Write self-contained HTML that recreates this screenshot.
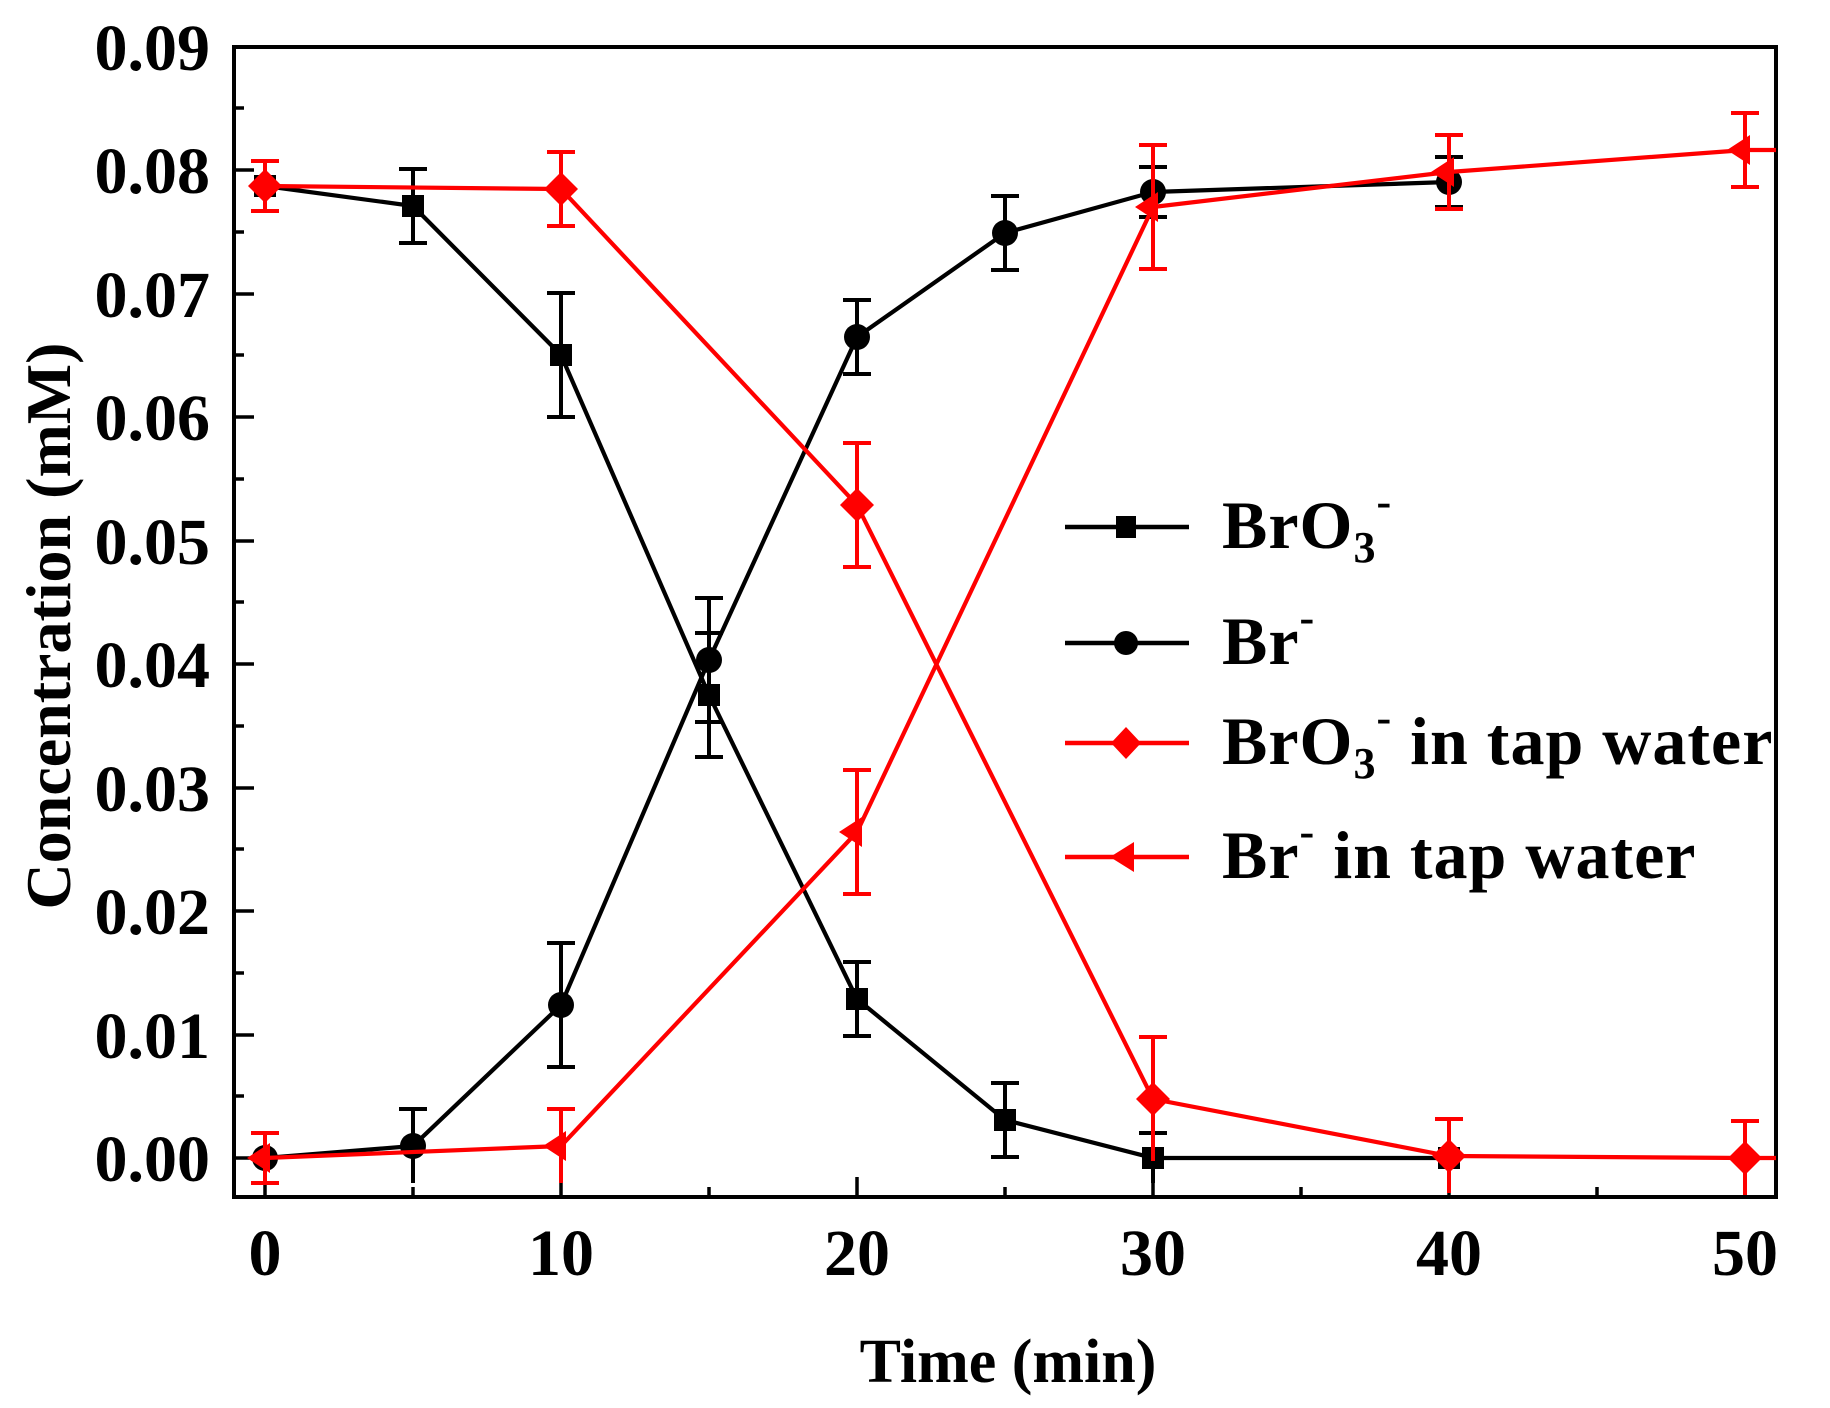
<!DOCTYPE html>
<html><head><meta charset="utf-8"><style>
html,body{margin:0;padding:0;background:#fff}
svg{display:block}
text{font-family:"Liberation Serif","DejaVu Serif",serif;font-weight:bold;fill:#000}
</style></head><body>
<svg width="1830" height="1408" viewBox="0 0 1830 1408" xmlns="http://www.w3.org/2000/svg">
<rect width="1830" height="1408" fill="#fff"/>
<rect x="234" y="47" width="1542" height="1150" fill="none" stroke="#000" stroke-width="4"/>
<g stroke="#000" stroke-width="3.5">
<line x1="234" y1="1158" x2="254" y2="1158"/><line x1="234" y1="1096" x2="244" y2="1096"/>
<line x1="234" y1="1035" x2="254" y2="1035"/><line x1="234" y1="973" x2="244" y2="973"/>
<line x1="234" y1="911" x2="254" y2="911"/><line x1="234" y1="849" x2="244" y2="849"/>
<line x1="234" y1="788" x2="254" y2="788"/><line x1="234" y1="726" x2="244" y2="726"/>
<line x1="234" y1="664" x2="254" y2="664"/><line x1="234" y1="602" x2="244" y2="602"/>
<line x1="234" y1="541" x2="254" y2="541"/><line x1="234" y1="479" x2="244" y2="479"/>
<line x1="234" y1="417" x2="254" y2="417"/><line x1="234" y1="355" x2="244" y2="355"/>
<line x1="234" y1="294" x2="254" y2="294"/><line x1="234" y1="232" x2="244" y2="232"/>
<line x1="234" y1="170" x2="254" y2="170"/><line x1="234" y1="108" x2="244" y2="108"/>
<line x1="265" y1="1197" x2="265" y2="1177"/><line x1="413" y1="1197" x2="413" y2="1187"/>
<line x1="561" y1="1197" x2="561" y2="1177"/><line x1="709" y1="1197" x2="709" y2="1187"/>
<line x1="857" y1="1197" x2="857" y2="1177"/><line x1="1005" y1="1197" x2="1005" y2="1187"/>
<line x1="1153" y1="1197" x2="1153" y2="1177"/><line x1="1301" y1="1197" x2="1301" y2="1187"/>
<line x1="1449" y1="1197" x2="1449" y2="1177"/><line x1="1597" y1="1197" x2="1597" y2="1187"/>
<line x1="1745" y1="1197" x2="1745" y2="1177"/>
</g>
<g font-size="66" text-anchor="end">
<text x="210" y="1181">0.00</text><text x="210" y="1058">0.01</text>
<text x="210" y="934">0.02</text><text x="210" y="811">0.03</text>
<text x="210" y="687">0.04</text><text x="210" y="564">0.05</text>
<text x="210" y="440">0.06</text><text x="210" y="317">0.07</text>
<text x="210" y="193">0.08</text><text x="210" y="70">0.09</text>
</g>
<g font-size="66" text-anchor="middle">
<text x="265" y="1275">0</text><text x="561" y="1275">10</text><text x="857" y="1275">20</text>
<text x="1153" y="1275">30</text><text x="1449" y="1275">40</text><text x="1745" y="1275">50</text>
</g>
<text x="1008" y="1382" font-size="62" text-anchor="middle">Time (min)</text>
<text transform="translate(70,626) rotate(-90)" font-size="64" text-anchor="middle">Concentration (mM)</text>

<g stroke="#000" stroke-width="4" fill="none">
<path d="M413 169V243M399 169H427M399 243H427"/>
<path d="M561 293V417M547 293H575M547 417H575"/>
<path d="M709 633V757M695 633H723M695 757H723"/>
<path d="M857 962V1036M843 962H871M843 1036H871"/>
<path d="M1005 1083V1157M991 1083H1019M991 1157H1019"/>
<path d="M1153 1133V1183M1139 1133H1167"/>
<path d="M413 1109V1183M399 1109H427"/>
<path d="M561 943V1067M547 943H575M547 1067H575"/>
<path d="M709 598V722M695 598H723M695 722H723"/>
<path d="M857 300V374M843 300H871M843 374H871"/>
<path d="M1005 196V270M991 196H1019M991 270H1019"/>
<path d="M1153 167V217M1139 167H1167M1139 217H1167"/>
<path d="M1449 157V207M1435 157H1463M1435 207H1463"/>
</g>
<polyline points="265,186 413,206 561,355 709,695 857,999 1005,1120 1153,1158 1449,1158" fill="none" stroke="#000" stroke-width="4.2"/>
<polyline points="265,1158 413,1146 561,1005 709,660 857,337 1005,233 1153,192 1449,182" fill="none" stroke="#000" stroke-width="4.2"/>
<g fill="#000">
<rect x="254" y="175" width="22" height="22"/><rect x="402" y="195" width="22" height="22"/>
<rect x="550" y="344" width="22" height="22"/><rect x="698" y="684" width="22" height="22"/>
<rect x="846" y="988" width="22" height="22"/><rect x="994" y="1109" width="22" height="22"/>
<rect x="1142" y="1147" width="22" height="22"/><rect x="1438" y="1147" width="22" height="22"/>
<circle cx="265" cy="1158" r="13"/><circle cx="413" cy="1146" r="13"/>
<circle cx="561" cy="1005" r="13"/><circle cx="709" cy="660" r="13"/>
<circle cx="857" cy="337" r="13"/><circle cx="1005" cy="233" r="13"/>
<circle cx="1153" cy="192" r="13"/><circle cx="1449" cy="182" r="13"/>
</g>
<g stroke="#f00" stroke-width="4" fill="none">
<path d="M265 161V211M251 161H279M251 211H279"/>
<path d="M561 152V226M547 152H575M547 226H575"/>
<path d="M857 443V567M843 443H871M843 567H871"/>
<path d="M1153 1037V1161M1139 1037H1167"/>
<path d="M1449 1119V1193M1435 1119H1463"/>
<path d="M1745 1121V1195M1731 1121H1759"/>
<path d="M265 1133V1183M251 1133H279M251 1183H279"/>
<path d="M561 1109V1183M547 1109H575"/>
<path d="M857 770V894M843 770H871M843 894H871"/>
<path d="M1153 145V269M1139 145H1167M1139 269H1167"/>
<path d="M1449 135V209M1435 135H1463M1435 209H1463"/>
<path d="M1745 113V187M1731 113H1759M1731 187H1759"/>
</g>
<polyline points="265,186 561,189 857,505 1153,1099 1449,1156 1745,1158 1776,1158" fill="none" stroke="#f00" stroke-width="4.2"/>
<polyline points="265,1158 561,1146 857,832 1153,207 1449,172 1745,150 1776,150" fill="none" stroke="#f00" stroke-width="4.2"/>
<g fill="#f00">
<path d="M265 169L282 186L265 203L248 186Z"/><path d="M561 172L578 189L561 206L544 189Z"/>
<path d="M857 488L874 505L857 522L840 505Z"/><path d="M1153 1082L1170 1099L1153 1116L1136 1099Z"/>
<path d="M1449 1139L1466 1156L1449 1173L1432 1156Z"/><path d="M1745 1141L1762 1158L1745 1175L1728 1158Z"/>
<path d="M247 1158L270 1143L270 1173Z"/><path d="M543 1146L566 1131L566 1161Z"/>
<path d="M839 832L862 817L862 847Z"/><path d="M1135 207L1158 192L1158 222Z"/>
<path d="M1431 172L1454 157L1454 187Z"/><path d="M1727 150L1750 135L1750 165Z"/>
</g>

<g stroke-width="4.5">
<line x1="1065" y1="527" x2="1189" y2="527" stroke="#000"/>
<line x1="1065" y1="643" x2="1189" y2="643" stroke="#000"/>
<line x1="1065" y1="743" x2="1189" y2="743" stroke="#f00"/>
<line x1="1065" y1="857" x2="1189" y2="857" stroke="#f00"/>
</g>
<rect x="1116" y="516" width="20" height="22" fill="#000"/>
<circle cx="1126" cy="643" r="12" fill="#000"/>
<path d="M1126 727L1141 743L1126 759L1111 743Z" fill="#f00"/>
<path d="M1110 857L1134 842L1134 872Z" fill="#f00"/>
<g font-size="68" letter-spacing="1">
<text x="1222" y="548">BrO<tspan font-size="44" dy="14">3</tspan><tspan font-size="44" dy="-46">-</tspan></text>
<text x="1222" y="664">Br<tspan font-size="44" dy="-32">-</tspan></text>
<text x="1222" y="764">BrO<tspan font-size="44" dy="14">3</tspan><tspan font-size="44" dy="-46">-</tspan><tspan dy="32"> in tap water</tspan></text>
<text x="1222" y="878">Br<tspan font-size="44" dy="-32">-</tspan><tspan dy="32"> in tap water</tspan></text>
</g>
</svg>
</body></html>
